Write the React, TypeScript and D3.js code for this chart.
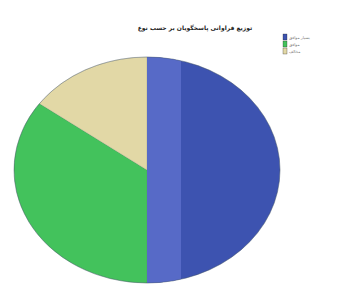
import React from 'react';
import * as d3 from 'd3';

const categories = ['بسیار موافق', 'موافق', 'مخالف'];
const values = [50, 35, 15];
const colors = ['#3d53b0', '#43c25c', '#e2d8a6'];
const title = 'توزیع فراوانی پاسخگویان بر حسب نوع';

export default function App() {
  const width = 360;
  const height = 307;
  const cx = 147;
  const cy = 170;
  const rx = 133;
  const ry = 113;

  const pie = d3.pie<number>().sort(null).value((d) => d);
  const arcs = pie(values);
  const arc = d3.arc<d3.PieArcDatum<number>>().innerRadius(0).outerRadius(ry);
  const sx = rx / ry;

  return (
    <div style={{ position: 'fixed', left: 0, top: 0 }}>
      <svg width={width} height={height} style={{ display: 'block', background: '#fff' }}>
        <defs>
          <clipPath id="blueClip">
            <path d={arc(arcs[0]) || ''} transform={`scale(${sx},1)`} />
          </clipPath>
        </defs>
        <text
          x={195}
          y={30}
          textAnchor="middle"
          fontFamily="DejaVu Sans, sans-serif"
          fontSize={6}
          fontWeight="bold"
          fill="#222"
          direction="rtl"
        >
          {title}
        </text>
        <g transform={`translate(${cx},${cy})`}>
          {arcs.map((a, i) => (
            <path
              key={i}
              d={arc(a) || ''}
              transform={`scale(${sx},1)`}
              fill={colors[i]}
              stroke="#5a6a5a"
              strokeOpacity={0.35}
              strokeWidth={0.6}
              vectorEffect="non-scaling-stroke"
            />
          ))}
          <g clipPath="url(#blueClip)">
            <rect x={0} y={-ry} width={34} height={ry * 2} fill="#5a6dca" opacity={0.9} />
          </g>
          <ellipse rx={rx} ry={ry} fill="none" stroke="#3a4a6a" strokeOpacity={0.35} strokeWidth={1} />
        </g>
        <g transform="translate(283,34)">
          {categories.map((c, i) => (
            <g key={c} transform={`translate(0,${i * 7})`}>
              <rect x={0} y={0} width={4} height={6} fill={colors[i]} stroke="#222" strokeWidth={0.3} />
              <text x={6} y={4.5} fontFamily="DejaVu Sans, sans-serif" fontSize={4} fill="#777">
                {c}
              </text>
            </g>
          ))}
        </g>
      </svg>
    </div>
  );
}
